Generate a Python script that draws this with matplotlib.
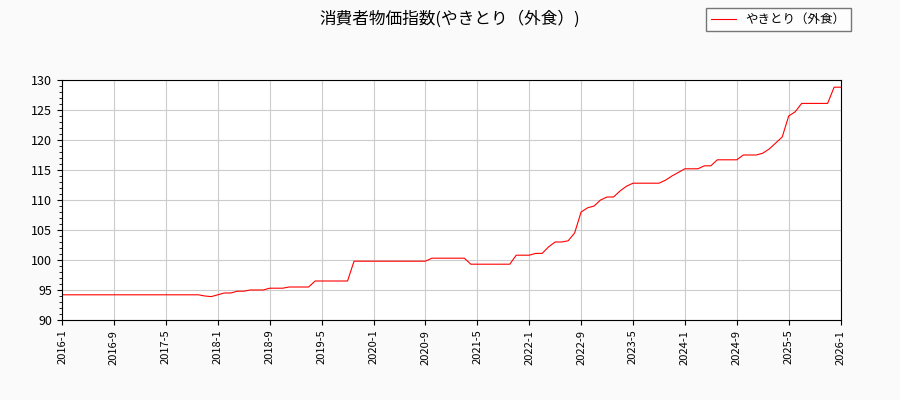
import numpy as np
import matplotlib.pyplot as plt

plt.rcParams['font.family'] = ['Noto Sans CJK JP', 'DejaVu Sans']

# monthly values, 2016-1 .. 2026-1
values = (
    [94.2] * 22 + [94.0, 93.9, 94.2, 94.5, 94.5, 94.8, 94.8, 95.0, 95.0, 95.0,
                   95.3, 95.3, 95.3, 95.5, 95.5, 95.5, 95.5]
    + [96.5] * 6 + [99.8] * 12 + [100.3] * 6 + [99.3] * 7
    + [100.8, 100.8, 100.8, 101.1, 101.1, 102.2, 103.0, 103.0, 103.2, 104.5,
       108.0, 108.7, 109.0, 110.0, 110.5, 110.5, 111.5, 112.3]
    + [112.8] * 5 + [113.3, 114.0, 114.6, 115.2, 115.2, 115.2, 115.7, 115.7]
    + [116.7] * 4 + [117.5] * 3 + [117.8, 118.5, 119.5, 120.5, 124.0, 124.7]
    + [126.1] * 5 + [128.8, 128.8]
)
tick_labels = ["2016-1", "2016-9", "2017-5", "2018-1", "2018-9", "2019-5", "2020-1",
               "2020-9", "2021-5", "2022-1", "2022-9", "2023-5", "2024-1", "2024-9",
               "2025-5", "2026-1"]

x = np.arange(len(values))
fig = plt.figure(figsize=(9, 4), dpi=100, facecolor="#fafafa")
ax = fig.add_axes([0.069, 0.2, 0.865, 0.6])
ax.plot(x, values, color="red", linewidth=0.8, label="やきとり（外食）")
ax.set_xlim(0, 120)
ax.set_ylim(90, 130)
ax.set_xticks(np.arange(0, 121, 8))
ax.set_xticklabels(tick_labels, rotation=90, fontsize=8)
ax.set_yticks(np.arange(90, 131, 5))
ax.set_yticks(np.arange(90, 131, 1), minor=True)
ax.tick_params(axis="y", labelsize=9)
ax.grid(True, color="#cccccc")
fig.suptitle("消費者物価指数(やきとり（外食）)", y=0.975, fontsize=12)
fig.legend(loc="upper right", bbox_to_anchor=(0.952, 0.995), fontsize=9,
           fancybox=False, edgecolor="#555555")
fig.savefig("out.png", facecolor=fig.get_facecolor())
